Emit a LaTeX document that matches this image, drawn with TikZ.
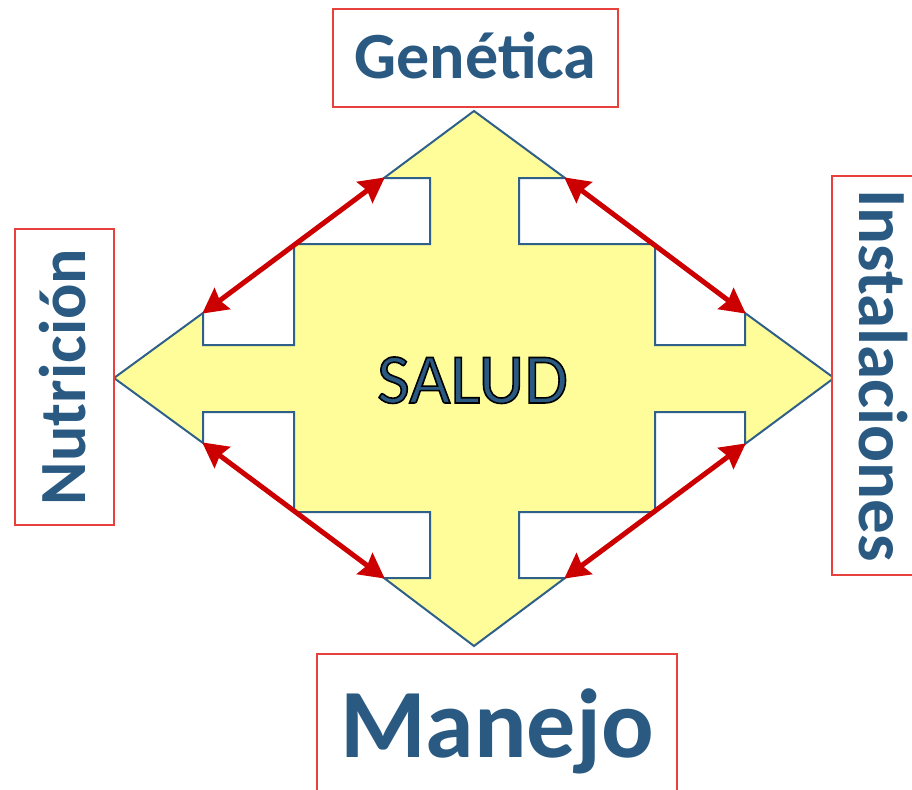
\documentclass[tikz,border=0pt]{standalone}
\usepackage{fontspec}
\setmainfont{Carlito}
\usetikzlibrary{arrows.meta}
\definecolor{txtblue}{HTML}{2A5A82}
\definecolor{boxred}{HTML}{E8403C}
\definecolor{fillyel}{HTML}{FFFD99}
\definecolor{edgeblue}{HTML}{2F6089}
\definecolor{arrred}{HTML}{CC0000}
\newcommand{\outlinedtext}[1]{\special{pdf:literal direct 2 Tr 1.6 w 0 0 0 RG}#1\special{pdf:literal direct 0 Tr}}
\tikzset{
  labelbox/.style={draw=boxred, line width=1.6pt, fill=white, inner sep=0pt, text depth=0pt, text=txtblue, font=\bfseries},
  crossshape/.style={draw=edgeblue, fill=fillyel, line width=2pt, line join=miter},
  dblarrow/.style={draw=arrred, line width=5pt, {Stealth[length=25pt,width=26pt,inset=3pt]}-{Stealth[length=25pt,width=26pt,inset=3pt]}, shorten <=-1pt, shorten >=-1pt}
}
\begin{document}
\begin{tikzpicture}[x=1pt,y=-1pt]
\useasboundingbox (0,0) rectangle (912,789);
\fill[white] (0,0) rectangle (912,789);
% corners
\coordinate (tl) at (384,178);
\coordinate (tr) at (565,178);
\coordinate (rt) at (745,313);
\coordinate (rb) at (745,444);
\coordinate (br) at (565,578);
\coordinate (bl) at (384,578);
\coordinate (lb) at (203,443);
\coordinate (lt) at (203,313);
% four-way arrow
\draw[crossshape] (474,111) -- (tr) -- (519,178) -- (519,244) -- (655,244) -- (655,345) -- (745,345) -- (rt) -- (834,378) -- (rb) -- (745,412) -- (655,412) -- (655,512) -- (519,512) -- (519,578) -- (br) -- (474,646) -- (bl) -- (430,578) -- (430,512) -- (294,512) -- (294,412) -- (203,412) -- (lb) -- (114,378) -- (lt) -- (203,345) -- (294,345) -- (294,244) -- (430,244) -- (430,178) -- (tl) -- cycle;
% red double arrows
\draw[dblarrow] (tl) -- (lt);
\draw[dblarrow] (tr) -- (rt);
\draw[dblarrow] (lb) -- (bl);
\draw[dblarrow] (rb) -- (br);
% centre text
\node[inner sep=0pt, text depth=0pt, text height=45pt, font=\fontsize{71}{71}\selectfont, text=txtblue] (salud) at (472.5,380.5) {\outlinedtext{SALUD}};
% label boxes
\node[labelbox, minimum width=285pt, minimum height=98pt, text height=42pt, font=\bfseries\fontsize{66}{66}\selectfont] (gen) at (475.5,58) {Genética};
\node[labelbox, rotate=90, minimum width=296pt, minimum height=99pt, text height=42pt, font=\bfseries\fontsize{66}{66}\selectfont] (nut) at (64.5,377) {Nutrición};
\node[labelbox, rotate=-90, minimum width=399pt, minimum height=99pt, text height=44pt, font=\bfseries\fontsize{69}{69}\selectfont] (ins) at (881.5,375.5) {Instalaciones};
\node[labelbox, minimum width=360pt, minimum height=144pt, text height=62pt, font=\bfseries\fontsize{98}{98}\selectfont] (man) at (497,726) {Manejo};
\end{tikzpicture}
\end{document}
